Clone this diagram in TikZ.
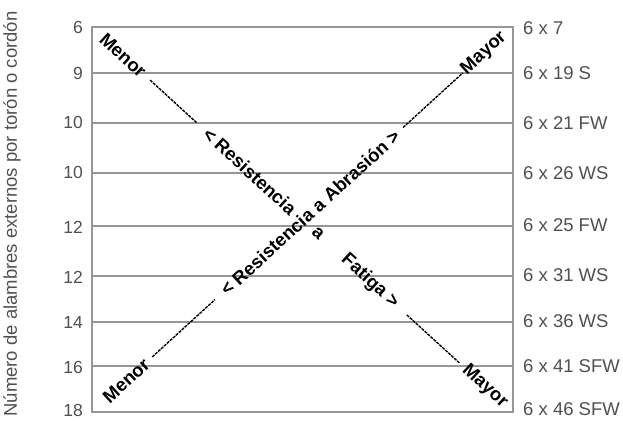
\documentclass[tikz,border=0pt]{standalone}
\usepackage{fontspec}
\setmainfont{Liberation Sans}
\usetikzlibrary{calc}
\definecolor{gridgray}{RGB}{150,150,150}
\definecolor{labgray}{RGB}{80,80,80}
\begin{document}
\begin{tikzpicture}[x=1pt,y=-1pt,
  gridline/.style={draw=gridgray,line width=1.2pt},
  leftlab/.style={font=\fontsize{17.5}{19}\selectfont,text=labgray,inner sep=0pt,anchor=east},
  rightlab/.style={font=\fontsize{18.5}{20}\selectfont,text=labgray,inner sep=0pt,anchor=west},
  dgone/.style={font=\bfseries\fontsize{18.5}{20}\selectfont,rotate=-42.44,inner sep=0pt},
  dgtwo/.style={font=\bfseries\fontsize{18.5}{20}\selectfont,rotate=42.44,inner sep=0pt},
  dashline/.style={line width=1.4pt,dash pattern=on 3pt off 1pt}]
\useasboundingbox (0,0) rectangle (623,420);
% frame and grid
\coordinate (tl) at (92,27);
\coordinate (tr) at (513,27);
\coordinate (bl) at (92,412);
\coordinate (br) at (513,412);
\draw[gridline] (tl) rectangle (br);
\foreach \yy in {73,123,173,226,276,322,366}{
  \draw[gridline] (92,\yy) -- (513,\yy);
}
% left labels
\node[leftlab] (la) at (83,27) {6};
\node[leftlab] (lb) at (83,73) {9};
\node[leftlab] (lc) at (83,122) {10};
\node[leftlab] (ld) at (83,172) {10};
\node[leftlab] (le) at (83,227) {12};
\node[leftlab] (lf) at (83,277) {12};
\node[leftlab] (lg) at (83,322) {14};
\node[leftlab] (lh) at (83,367) {16};
\node[leftlab] (li) at (83,410) {18};
% right labels
\node[rightlab] (ra) at (523,28) {6 x 7};
\node[rightlab] (rb) at (523,73) {6 x 19 S};
\node[rightlab] (rc) at (523,123) {6 x 21 FW};
\node[rightlab] (rd) at (523,173) {6 x 26 WS};
\node[rightlab] (re) at (523,225) {6 x 25 FW};
\node[rightlab] (rf) at (523,275) {6 x 31 WS};
\node[rightlab] (rg) at (523,321) {6 x 36 WS};
\node[rightlab] (rh) at (523,366) {6 x 41 SFW};
\node[rightlab] (ri) at (523,409) {6 x 46 SFW};
% axis title
\node[rotate=90,font=\fontsize{18.5}{20}\selectfont,text=labgray,inner sep=0pt] (ytitle) at (12,214)
  {Número de alambres externos por torón o cordón};
% diagonal 1 (top-left to bottom-right)
\node[dgone] (mone) at ($(tl)!0.0736!(br)$) {Menor};
\node[dgone] (rone) at ($(tl)!0.375!(br)$) {< Resistencia};
\node[dgone] (aone) at ($(tl)!0.537!(br)$) {a};
\node[dgone] (fone) at ($(tl)!0.660!(br)$) {Fatiga >};
\node[dgone] (yone) at ($(tl)!0.933!(br)$) {Mayor};
\coordinate (d1a) at ($(tl)!0.138!(br)$);
\coordinate (d1b) at ($(tl)!0.249!(br)$);
\coordinate (d1c) at ($(tl)!0.748!(br)$);
\coordinate (d1d) at ($(tl)!0.874!(br)$);
\draw[dashline] (d1a) -- (d1b);
\draw[dashline] (d1c) -- (d1d);
% diagonal 2 (bottom-left to top-right)
\node[dgtwo] (mtwo) at ($(bl)!0.081!(tr)$) {Menor};
\node[dgtwo] (rtwo) at ($(bl)!0.518!(tr)$) {< Resistencia a Abrasión >};
\node[dgtwo] (ytwo) at ($(bl)!0.931!(tr)$) {Mayor};
\coordinate (d2a) at ($(bl)!0.143!(tr)$);
\coordinate (d2b) at ($(bl)!0.292!(tr)$);
\coordinate (d2c) at ($(bl)!0.739!(tr)$);
\coordinate (d2d) at ($(bl)!0.881!(tr)$);
\draw[dashline] (d2a) -- (d2b);
\draw[dashline] (d2c) -- (d2d);
\end{tikzpicture}
\end{document}
